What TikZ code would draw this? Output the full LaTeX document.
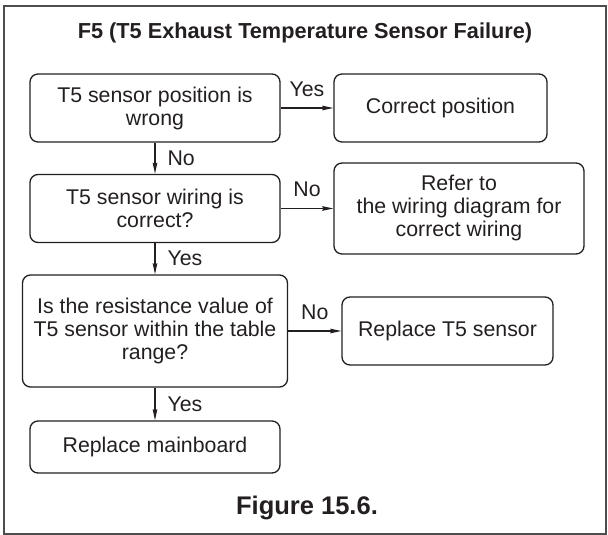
\documentclass[tikz,border=0pt]{standalone}
\usepackage{fontspec}
\setmainfont{Liberation Sans}
\usetikzlibrary{arrows.meta}
\definecolor{ink}{HTML}{231F20}

\begin{document}
\begin{tikzpicture}[x=1pt,y=-1pt,
    box/.style={draw=ink,line width=1.3pt,rounded corners=8pt,align=center,text=ink,
                inner sep=0pt,font=\fontsize{21.3}{23}\selectfont},
    lbl/.style={text=ink,inner sep=0pt,font=\fontsize{21.3}{23}\selectfont},
    arr/.style={draw=ink,line width=1.1pt,-{Stealth[length=11pt,width=4.5pt,inset=1pt]}}]
  \useasboundingbox (0,0) rectangle (608,535);
  \draw[ink!80,line width=1.4pt] (4,6) rectangle (606,534);
  \node[lbl,font=\bfseries\fontsize{21.7}{24}\selectfont] (title) at (305,33) {F5 (T5 Exhaust Temperature Sensor Failure)};
  % left column
  \node[box,minimum width=250pt,minimum height=68pt] (pos) at (155,108) {T5 sensor position is\\wrong};
  \node[box,minimum width=250pt,minimum height=68pt] (wire) at (155,208.5) {T5 sensor wiring is\\correct?};
  \node[box,minimum width=265pt,minimum height=112pt] (res) at (155,331) {Is the resistance value of\\T5 sensor within the table\\range?};
  \node[box,minimum width=250pt,minimum height=52pt] (board) at (155,447) {Replace mainboard};
  % right column
  \node[box,minimum width=213pt,minimum height=68pt] (fixpos) at (440.5,108) {Correct position};
  \node[box,minimum width=250pt,minimum height=91pt] (refer) at (459,208.5) {Refer to\\the wiring diagram for\\correct wiring};
  \node[box,minimum width=211pt,minimum height=68pt] (newsens) at (447.5,331) {Replace T5 sensor};
  \foreach \a/\b/\t in {pos/wire/No, wire/res/Yes, res/board/Yes}
    \draw[arr] (\a.south) -- (\b.north) node[midway,lbl,right=12pt]{\t};
  \foreach \a/\b/\t in {pos/fixpos/Yes, wire/refer/No, res/newsens/No}
    \draw[arr] (\a.east) -- (\b.west) node[midway,lbl,above=11pt]{\t};
  \node[lbl,font=\bfseries\fontsize{25.5}{28}\selectfont] (cap) at (307,508) {Figure 15.6.};
\end{tikzpicture}
\end{document}
